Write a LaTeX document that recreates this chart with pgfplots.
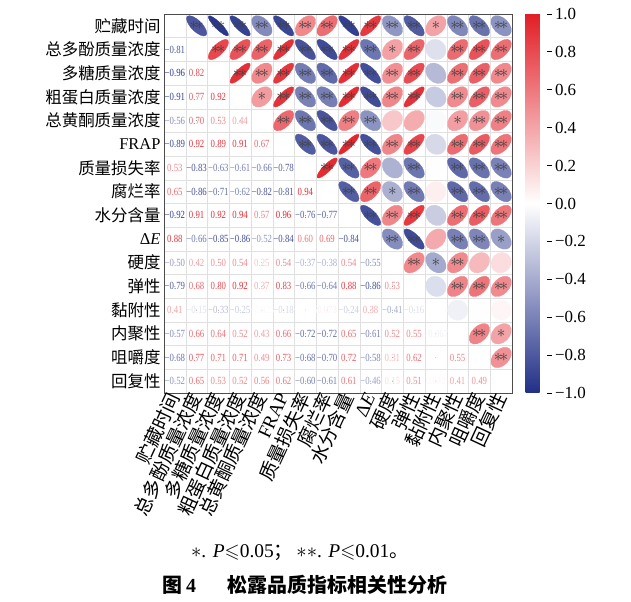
\documentclass[border=0pt]{standalone}
\usepackage{pgfplots}
\usepackage{pgfplotstable}
\pgfplotsset{compat=1.18}
\usepackage{amssymb}
\usepackage{fontspec}
\setmainfont{Liberation Serif}
\newfontfamily\cjk{Noto Sans CJK SC}
\newfontfamily\numf[FakeStretch=0.8]{Liberation Serif}

% lower triangle: i = row, j = column, r, sig (1 = *, 2 = **)
\pgfplotstableread{
i  j  r      sig
2  1  -0.81  2
3  1  -0.96  2
3  2  0.82   2
4  1  -0.91  2
4  2  0.77   2
4  3  0.92   2
5  1  -0.56  2
5  2  0.70   2
5  3  0.53   2
5  4  0.44   1
6  1  -0.89  2
6  2  0.92   2
6  3  0.89   2
6  4  0.91   2
6  5  0.67   2
7  1  0.53   2
7  2  -0.83  2
7  3  -0.63  2
7  4  -0.61  2
7  5  -0.66  2
7  6  -0.78  2
8  1  0.65   2
8  2  -0.86  2
8  3  -0.71  2
8  4  -0.62  2
8  5  -0.82  2
8  6  -0.81  2
8  7  0.94   2
9  1  -0.92  2
9  2  0.91   2
9  3  0.92   2
9  4  0.94   2
9  5  0.57   2
9  6  0.96   2
9  7  -0.76  2
9  8  -0.77  2
10 1  0.88   2
10 2  -0.66  2
10 3  -0.85  2
10 4  -0.86  2
10 5  -0.52  2
10 6  -0.84  2
10 7  0.60   2
10 8  0.69   2
10 9  -0.84  2
11 1  -0.50  2
11 2  0.42   1
11 3  0.50   2
11 4  0.54   2
11 5  0.25   0
11 6  0.54   2
11 7  -0.37  0
11 8  -0.38  1
11 9  0.54   2
11 10 -0.55  2
12 1  -0.79  2
12 2  0.68   2
12 3  0.80   2
12 4  0.92   2
12 5  0.37   0
12 6  0.83   2
12 7  -0.66  2
12 8  -0.64  2
12 9  0.88   2
12 10 -0.86  2
12 11 0.53   2
13 1  0.41   1
13 2  -0.15  0
13 3  -0.33  0
13 4  -0.25  0
13 5  -0.025 0
13 6  -0.18  0
13 7  -0.005 0
13 8  0.073  0
13 9  -0.24  0
13 10 0.38   0
13 11 -0.41  1
13 12 -0.16  0
14 1  -0.57  2
14 2  0.66   2
14 3  0.64   2
14 4  0.52   2
14 5  0.43   1
14 6  0.66   2
14 7  -0.72  2
14 8  -0.72  2
14 9  0.65   2
14 10 -0.61  2
14 11 0.52   2
14 12 0.55   2
14 13 -0.067 0
15 1  -0.68  2
15 2  0.77   2
15 3  0.71   2
15 4  0.71   2
15 5  0.49   2
15 6  0.73   2
15 7  -0.68  2
15 8  -0.70  2
15 9  0.72   2
15 10 -0.58  2
15 11 0.31   0
15 12 0.62   2
15 13 0.003  0
15 14 0.55   2
16 1  -0.52  2
16 2  0.65   2
16 3  0.53   2
16 4  0.52   2
16 5  0.56   2
16 6  0.62   2
16 7  -0.60  2
16 8  -0.61  2
16 9  0.61   2
16 10 -0.46  1
16 11 0.15   0
16 12 0.51   2
16 13 0.042  0
16 14 0.41   1
16 15 0.49   2
}\corr

\begin{document}
\begin{tikzpicture}
\begin{axis}[
  name=ax,
  width=348bp, height=379bp, scale only axis,
  xmin=0.5, xmax=16.5, ymin=0.5, ymax=16.5,
  y dir=reverse,
  xtick={1,...,16}, ytick={1,...,16},
  xticklabels={{\cjk 贮藏时间},{\cjk 总多酚质量浓度},{\cjk 多糖质量浓度},{\cjk 粗蛋白质量浓度},{\cjk 总黄酮质量浓度},FRAP,{\cjk 质量损失率},{\cjk 腐烂率},{\cjk 水分含量},{Δ\textit{E}},{\cjk 硬度},{\cjk 弹性},{\cjk 黏附性},{\cjk 内聚性},{\cjk 咀嚼度},{\cjk 回复性}},
  yticklabels={{\cjk 贮藏时间},{\cjk 总多酚质量浓度},{\cjk 多糖质量浓度},{\cjk 粗蛋白质量浓度},{\cjk 总黄酮质量浓度},FRAP,{\cjk 质量损失率},{\cjk 腐烂率},{\cjk 水分含量},{Δ\textit{E}},{\cjk 硬度},{\cjk 弹性},{\cjk 黏附性},{\cjk 内聚性},{\cjk 咀嚼度},{\cjk 回复性}},
  minor xtick={1.5,2.5,...,15.5}, minor ytick={1.5,2.5,...,15.5},
  xminorgrids, yminorgrids,
  minor grid style={black!12, line width=0.4pt},
  major tick length=0pt, minor tick length=0pt,
  axis line style={black!70, line width=0.8pt},
  yticklabel style={font=\fontsize{16.5}{16.5}\selectfont},
  xticklabel style={font=\fontsize{19}{19}\selectfont, rotate=65, anchor=east, inner sep=1pt},
  colormap={rb}{rgb255(0cm)=(33,47,135); rgb255(1cm)=(255,255,255); rgb255(2cm)=(226,30,38)},
  point meta min=-1, point meta max=1,
  colorbar,
  colorbar style={
    at={(parent axis.north east)}, anchor=north west, xshift=5bp,
    width=21bp,
    ytick={-1,-0.8,-0.6,-0.4,-0.2,0,0.2,0.4,0.6,0.8,1},
    yticklabels={−1.0,−0.8,−0.6,−0.4,−0.2,0.0,0.2,0.4,0.6,0.8,1.0},
    yticklabel style={font=\fontsize{17}{17}\selectfont},
    ytick pos=right, tick align=outside, major tick length=5bp,
    ytick style={black, line width=0.8pt},
    axis line style={draw=none},
  },
]
% numbers, lower triangle
\addplot[scatter, only marks, mark=*, mark size=0.01pt,
  scatter/use mapped color={draw=none, fill=none},
  point meta=explicit,
  visualization depends on={\thisrow{r}\as\rr},
  visualization depends on={abs(\thisrow{r})\as\ra},
  nodes near coords*={\ifdim\rr pt<0pt −\fi\ifdim\ra pt<0.1pt
      \pgfmathprintnumber[fixed, fixed zerofill, precision=3, assume math mode=true]{\ra}\else
      \pgfmathprintnumber[fixed, fixed zerofill, precision=2, assume math mode=true]{\ra}\fi},
  nodes near coords align={center},
  every node near coord/.append style={anchor=center, text=mapped color, inner sep=0pt,
    font=\numf\fontsize{11}{11}\selectfont},
] table[x=j, y=i, meta=r] {\corr};
% ellipses, upper triangle
\addplot[scatter, only marks, mark=*, mark size=10.5pt,
  scatter/use mapped color={draw=mapped color, fill=mapped color, line width=0.3pt},
  point meta=explicit,
  visualization depends on={\thisrow{r}\as\rv},
  scatter/@pre marker code/.append code={%
    \pgfmathsetmacro\ea{0.95*sqrt(1+abs(\rv))}%
    \pgfmathsetmacro\eb{0.15+0.85*sqrt(1-abs(\rv))}%
    \pgfmathsetmacro\an{ifthenelse(\rv<0,-45,45)}%
    \pgftransformrotate{\an}%
    \pgftransformxscale{\ea}%
    \pgftransformyscale{\eb}},
] table[x=i, y=j, meta=r] {\corr};
% significance stars
\addplot[only marks, mark=none, point meta=explicit,
  visualization depends on={\thisrow{sig}\as\sv},
  nodes near coords={\ifdim\sv pt>1.5pt $\ast\!\ast$\else\ifdim\sv pt>0.5pt $\ast$\fi\fi},
  nodes near coords align={center},
  every node near coord/.append style={anchor=center, text=black!75, inner sep=0pt,
    font=\fontsize{17}{17}\selectfont},
] table[x=i, y=j, meta=r] {\corr};
\end{axis}
\node[font=\fontsize{19.5}{19.5}\selectfont] at ([shift={(136bp,-160bp)}]ax.south west)
  {$\ast$. \textit{P}$\leqslant$0.05{\cjk ；}\,$\ast\ast$. \textit{P}$\leqslant$0.01{\cjk 。}};
\node[font=\fontsize{20}{20}\selectfont\bfseries] at ([shift={(141bp,-192bp)}]ax.south west)
  {{\cjk 图}\,4\hspace{1.6em}{\cjk 松露品质指标相关性分析}};
\pgfresetboundingbox
\path[use as bounding box] ([shift={(-164bp,-209bp)}]ax.south west) rectangle ([shift={(119bp,14bp)}]ax.north east);
\end{tikzpicture}
\end{document}
